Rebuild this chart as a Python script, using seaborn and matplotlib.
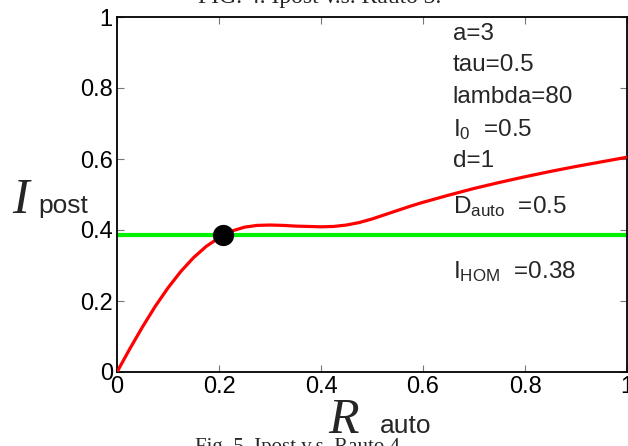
import matplotlib
matplotlib.use("Agg")
import matplotlib.pyplot as plt
import seaborn as sns
import pandas as pd

# Data
r_auto = [0, 0.025, 0.05, 0.075, 0.1, 0.125, 0.15, 0.175, 0.2, 0.225, 0.25,
          0.275, 0.3, 0.325, 0.35, 0.375, 0.4, 0.425, 0.45, 0.475, 0.5, 0.525,
          0.55, 0.575, 0.6, 0.65, 0.7, 0.75, 0.8, 0.85, 0.9, 0.95, 1.0]
i_post = [0, 0.065, 0.127, 0.185, 0.237, 0.283, 0.322, 0.354, 0.378, 0.397,
          0.408, 0.413, 0.414, 0.413, 0.411, 0.410, 0.409, 0.410, 0.414, 0.421,
          0.431, 0.443, 0.455, 0.467, 0.478, 0.498, 0.517, 0.534, 0.550, 0.565,
          0.579, 0.592, 0.605]
i_hom = 0.385
fixed_point_x = [0.208]
fixed_point_y = [0.386]
ticks = [0, 0.2, 0.4, 0.6, 0.8, 1]
tick_labels = ["0", "0.2", "0.4", "0.6", "0.8", "1"]
params = ["a=3", "tau=0.5", "lambda=80", r"I$_0$  =0.5", "d=1",
          r"D$_{\mathrm{auto}}$  =0.5", r"I$_{\mathrm{HOM}}$  =0.38"]
param_y = [0.953, 0.865, 0.775, 0.683, 0.593, 0.465, 0.283]

sns.set_style("ticks")
plt.rcParams["font.family"] = ["Liberation Sans", "DejaVu Sans"]
plt.rcParams["mathtext.fontset"] = "custom"
plt.rcParams["mathtext.rm"] = "Liberation Sans"
plt.rcParams["mathtext.it"] = "Liberation Sans:italic"

fig = plt.figure(figsize=(6.28, 4.46), dpi=100)
ax = fig.add_axes([117 / 628, 1 - 372 / 446, 510 / 628, 355 / 446])

df = pd.DataFrame({"r": r_auto, "i": i_post})
ax.axhline(i_hom, color="#00f000", lw=3.0, zorder=2)
sns.lineplot(data=df, x="r", y="i", ax=ax, color="#ff0000", lw=2.3, zorder=3)
sns.scatterplot(x=fixed_point_x, y=fixed_point_y, ax=ax, color="black",
                s=200, edgecolor="black", zorder=4)

ax.set_xlim(0, 1)
ax.set_ylim(0, 1)
ax.set_xticks(ticks)
ax.set_xticklabels(tick_labels)
ax.set_yticks(ticks)
ax.set_yticklabels(tick_labels)
ax.tick_params(direction="in", length=5, width=0.8, color="#777777",
               labelsize=17, top=True, right=True, pad=3, labelcolor="black")
for s in ax.spines.values():
    s.set_linewidth(1.3)
    s.set_color("black")
ax.set_xlabel("")
ax.set_ylabel("")

for txt, yy in zip(params, param_y):
    ax.text(0.658, yy, txt, transform=ax.transAxes, fontsize=17.5,
            va="center", ha="left")

# axis labels
fig.text(12 / 628, 1 - 213 / 446, "I", fontsize=36, family="Liberation Serif",
         style="italic", va="baseline", ha="left")
fig.text(38 / 628, 1 - 213 / 446, "post", fontsize=19, va="baseline", ha="left")
fig.text(328 / 628, 1 - 433 / 446, "R", fontsize=36, family="Liberation Serif",
         style="italic", va="baseline", ha="left")
fig.text(380 / 628, 1 - 433 / 446, "auto", fontsize=19, va="baseline", ha="left")

# clipped captions of neighbouring figures
fig.text(320 / 628, 1 - 3 / 446, "FIG. 4. Ipost v.s. Rauto 3.", fontsize=17,
         family="Liberation Serif", va="baseline", ha="center")
fig.text(300 / 628, 8 / 446, "Fig. 5. Ipost v.s. Rauto 4.", fontsize=15,
         family="Liberation Serif", va="top", ha="center")

fig.savefig("out.png", dpi=100)
